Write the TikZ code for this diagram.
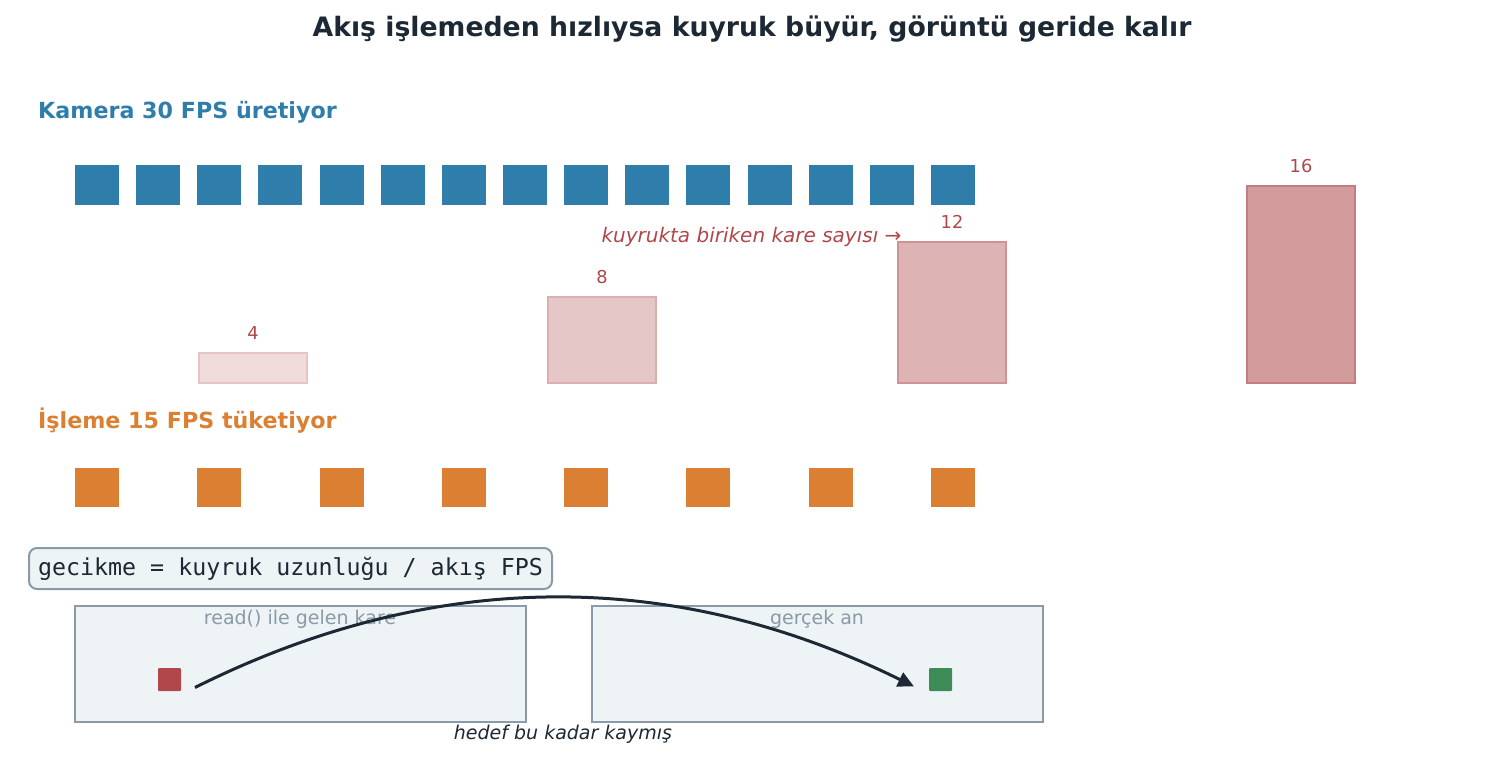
\documentclass[tikz,border=0pt]{standalone}
\usepackage{fontspec}
\setmainfont{DejaVu Sans}
\setmonofont{DejaVu Sans Mono}
\usetikzlibrary{arrows.meta}
\definecolor{dark}{HTML}{1C2833}
\definecolor{qblue}{HTML}{2E7DAB}
\definecolor{qorange}{HTML}{DB8033}
\definecolor{qred}{HTML}{B0474A}
\definecolor{qgreen}{HTML}{3D8C58}
\definecolor{panelfill}{HTML}{EEF3F6}
\definecolor{panelline}{HTML}{8A9AA6}
\definecolor{bfA}{HTML}{F0DCDD}\definecolor{bdA}{HTML}{E6C4C6}
\definecolor{bfB}{HTML}{E6C7C8}\definecolor{bdB}{HTML}{DCAEAF}
\definecolor{bfC}{HTML}{DDB3B4}\definecolor{bdC}{HTML}{D09395}
\definecolor{bfD}{HTML}{D39C9C}\definecolor{bdD}{HTML}{C67C7E}
\tikzset{
  camframe/.style={fill=qblue, draw=none, minimum width=44pt, minimum height=40pt, inner sep=0pt, outer sep=0pt, anchor=north west},
  procframe/.style={fill=qorange, draw=none, minimum width=44pt, minimum height=39pt, inner sep=0pt, outer sep=0pt, anchor=north west},
  heading/.style={anchor=west, inner sep=0pt, font=\bfseries\fontsize{22.2}{22.2}\selectfont},
  barlabel/.style={text=qred, inner sep=0pt, font=\fontsize{17.8}{17.8}\selectfont},
  panel/.style={fill=panelfill, draw=panelline, line width=2pt, minimum width=451pt, minimum height=116pt, inner sep=0pt, outer sep=0pt, anchor=north west},
  panellabel/.style={text=panelline, inner sep=0pt, font=\fontsize{19}{19}\selectfont},
  marker/.style={minimum width=23pt, minimum height=23pt, inner sep=0pt, outer sep=0pt, rounded corners=1pt, anchor=north west},
}
\begin{document}
\begin{tikzpicture}[x=1pt,y=-1pt]
\useasboundingbox (0,0) rectangle (1504,768);
% title
\node[text=dark, inner sep=0pt, font=\bfseries\fontsize{26.7}{26.7}\selectfont] (title) at (752,29) {Akış işlemeden hızlıysa kuyruk büyür, görüntü geride kalır};
% camera
\node[heading, text=qblue] (camhead) at (38,112.5) {Kamera 30 FPS üretiyor};
\foreach \i in {0,...,14} {
  \node[camframe] (cam\i) at ({75+61.14*\i},165) {};
}
% queue label
\node[text=qred, inner sep=0pt, font=\itshape\fontsize{20}{20}\selectfont] (qlabel) at (751.5,236.5) {kuyrukta biriken kare sayısı →};
% bars
\path[fill=bfA, draw=bdA, line width=1.5pt] (199,353) rectangle (307,383);
\node[barlabel] (l4) at (253,333) {4};
\path[fill=bfB, draw=bdB, line width=1.5pt] (548,297) rectangle (656,383);
\node[barlabel] (l8) at (602,277) {8};
\path[fill=bfC, draw=bdC, line width=1.5pt] (898,242) rectangle (1006,383);
\node[barlabel] (l12) at (952,222) {12};
\path[fill=bfD, draw=bdD, line width=1.5pt] (1247,186) rectangle (1355,383);
\node[barlabel] (l16) at (1301,166) {16};
% processing
\node[heading, text=qorange] (prochead) at (38,420.5) {İşleme 15 FPS tüketiyor};
\foreach \i in {0,...,7} {
  \node[procframe] (proc\i) at ({75+122.28*\i},468) {};
}
% formula
\node[fill=panelfill, draw=panelline, line width=2pt, rounded corners=8pt, anchor=west, outer sep=0pt, inner xsep=9pt, inner ysep=0pt, minimum height=41pt, text=dark, font=\ttfamily\fontsize{23.3}{23.3}\selectfont] (formula) at (29,568.5) {gecikme = kuyruk uzunluğu / akış FPS};
% panels
\node[panel] (leftpanel) at (75,606) {};
\node[panel] (rightpanel) at (592,606) {};
\node[panellabel] (leftlabel) at (300,619) {read() ile gelen kare};
\node[panellabel] (rightlabel) at (817,619) {gerçek an};
\node[marker, fill=qred] (redsq) at (158,668) {};
\node[marker, fill=qgreen] (greensq) at (929,668) {};
\coordinate (astart) at ([shift={(14,8)}]redsq.east);
\coordinate (aend) at ([shift={(-15,7)}]greensq.west);
\draw[dark, line width=3pt, -{Triangle[length=16pt,width=15pt]}] (astart) .. controls (434,568) and (674,568) .. (aend);
\node[text=dark, inner sep=0pt, font=\itshape\fontsize{19}{19}\selectfont] (shift) at (563,734) {hedef bu kadar kaymış};
\end{tikzpicture}
\end{document}
